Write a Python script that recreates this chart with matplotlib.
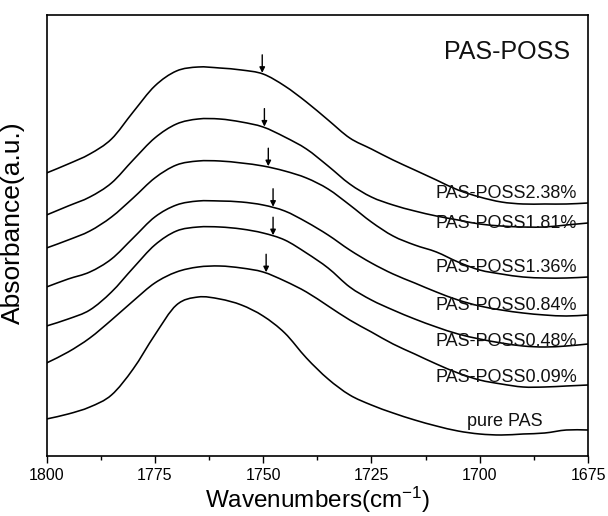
import numpy as np
import matplotlib
matplotlib.use("Agg")
import matplotlib.pyplot as plt
from matplotlib.ticker import MultipleLocator
from matplotlib.path import Path
from matplotlib.patches import PathPatch

plt.rcParams['font.family'] = ['Liberation Sans', 'DejaVu Sans']
plt.rcParams['mathtext.default'] = 'regular'

wavenumbers = [1800, 1795, 1790, 1785, 1780, 1775, 1770, 1765, 1760, 1755, 1750, 1745, 1740,
               1735, 1730, 1725, 1720, 1715, 1710, 1705, 1700, 1695, 1690, 1685, 1680, 1675]

poss_238 = [2.83, 2.92, 3.02, 3.17, 3.44, 3.70, 3.85, 3.89, 3.88, 3.86, 3.82, 3.70, 3.54,
            3.36, 3.18, 3.07, 2.96, 2.86, 2.76, 2.66, 2.59, 2.54, 2.52, 2.52, 2.52, 2.53]
poss_181 = [2.41, 2.50, 2.59, 2.73, 2.96, 3.18, 3.32, 3.37, 3.37, 3.34, 3.29, 3.19, 3.07,
            2.90, 2.72, 2.59, 2.51, 2.45, 2.40, 2.36, 2.32, 2.30, 2.29, 2.29, 2.31, 2.33]
poss_136 = [2.08, 2.16, 2.25, 2.39, 2.58, 2.78, 2.91, 2.95, 2.95, 2.93, 2.90, 2.85, 2.78,
            2.67, 2.51, 2.34, 2.20, 2.11, 2.04, 1.94, 1.86, 1.82, 1.79, 1.78, 1.78, 1.79]
poss_084 = [1.69, 1.77, 1.84, 1.97, 2.18, 2.39, 2.51, 2.55, 2.55, 2.54, 2.51, 2.45, 2.34,
            2.21, 2.06, 1.93, 1.82, 1.73, 1.64, 1.56, 1.50, 1.46, 1.43, 1.41, 1.40, 1.41]
poss_048 = [1.30, 1.37, 1.46, 1.64, 1.88, 2.11, 2.25, 2.29, 2.29, 2.27, 2.23, 2.16, 2.03,
            1.88, 1.69, 1.56, 1.46, 1.37, 1.29, 1.22, 1.17, 1.13, 1.10, 1.09, 1.10, 1.12]
poss_009 = [0.93, 1.04, 1.18, 1.36, 1.55, 1.73, 1.84, 1.89, 1.90, 1.88, 1.84, 1.75, 1.64,
            1.50, 1.36, 1.24, 1.12, 1.02, 0.92, 0.83, 0.76, 0.72, 0.69, 0.69, 0.70, 0.71]
pure_pas = [0.37, 0.42, 0.49, 0.61, 0.87, 1.21, 1.51, 1.59, 1.57, 1.51, 1.40, 1.23, 0.98,
            0.77, 0.61, 0.51, 0.43, 0.36, 0.30, 0.25, 0.22, 0.21, 0.22, 0.23, 0.26, 0.26]

series = [poss_238, poss_181, poss_136, poss_084, poss_048, poss_009, pure_pas]
labels = ["PAS-POSS2.38%", "PAS-POSS1.81%", "PAS-POSS1.36%", "PAS-POSS0.84%",
          "PAS-POSS0.48%", "PAS-POSS0.09%", "pure PAS"]
arrow_wn = [1750.2, 1749.7, 1748.8, 1747.7, 1747.7, 1749.3]
xticks = [1800, 1775, 1750, 1725, 1700, 1675]

# label placement (style)
label_x = [1677.5] * 6 + [1685.4]
label_y = [2.63, 2.33, 1.88, 1.51, 1.14, 0.79, 0.34]


def smooth_path(x, y):
    """Catmull-Rom spline through the data points, drawn as cubic Bezier segments."""
    P = np.column_stack([x, y]).astype(float)
    n = len(P)
    m = np.zeros_like(P)
    m[1:-1] = (P[2:] - P[:-2]) / 2.0
    m[0] = P[1] - P[0]
    m[-1] = P[-1] - P[-2]
    verts = [P[0]]
    codes = [Path.MOVETO]
    for i in range(n - 1):
        verts += [P[i] + m[i] / 3.0, P[i + 1] - m[i + 1] / 3.0, P[i + 1]]
        codes += [Path.CURVE4] * 3
    return Path(verts, codes)


fig = plt.figure(figsize=(6.08, 5.16), dpi=100)
ax = fig.add_axes([46.5 / 608, 1 - 456 / 516, (588 - 46.5) / 608, (456 - 15) / 516])

wn = np.array(wavenumbers, dtype=float)
for s in series:
    ax.add_patch(PathPatch(smooth_path(wn, s), facecolor='none', edgecolor='black', lw=1.15))

for i, a in enumerate(arrow_wn):
    yv = np.interp(a, wn[::-1], np.array(series[i])[::-1])
    ax.annotate('', xy=(a, yv + 0.01), xytext=(a, yv + 0.19),
                arrowprops=dict(arrowstyle='-|>', color='black', lw=1.0,
                                mutation_scale=8, shrinkA=0, shrinkB=0))

for lx, ly, t in zip(label_x, label_y, labels):
    ax.text(lx, ly, t, ha='right', va='center', fontsize=13, color='#111111')

ax.text(1679.2, 4.04, "PAS-POSS", ha='right', va='center', fontsize=18, color='#111111')

ax.set_xlim(1800, 1675)
ax.set_ylim(0, 4.41)
ax.set_xticks(xticks)
ax.set_xticklabels([str(t) for t in xticks])
ax.xaxis.set_minor_locator(MultipleLocator(12.5))
ax.tick_params(axis='x', which='major', direction='out', length=5, width=1.0, labelsize=11.5, pad=4)
ax.tick_params(axis='x', which='minor', direction='out', length=3, width=1.0)
ax.set_yticks([])
for sp in ax.spines.values():
    sp.set_linewidth(1.2)

ax.set_xlabel(r"Wavenumbers(cm$^{-1}$)", fontsize=17.5, labelpad=1)
ax.set_ylabel("Absorbance(a.u.)", fontsize=19)
ax.yaxis.set_label_coords(-0.04, 0.53)

fig.savefig("out.png", dpi=100)
